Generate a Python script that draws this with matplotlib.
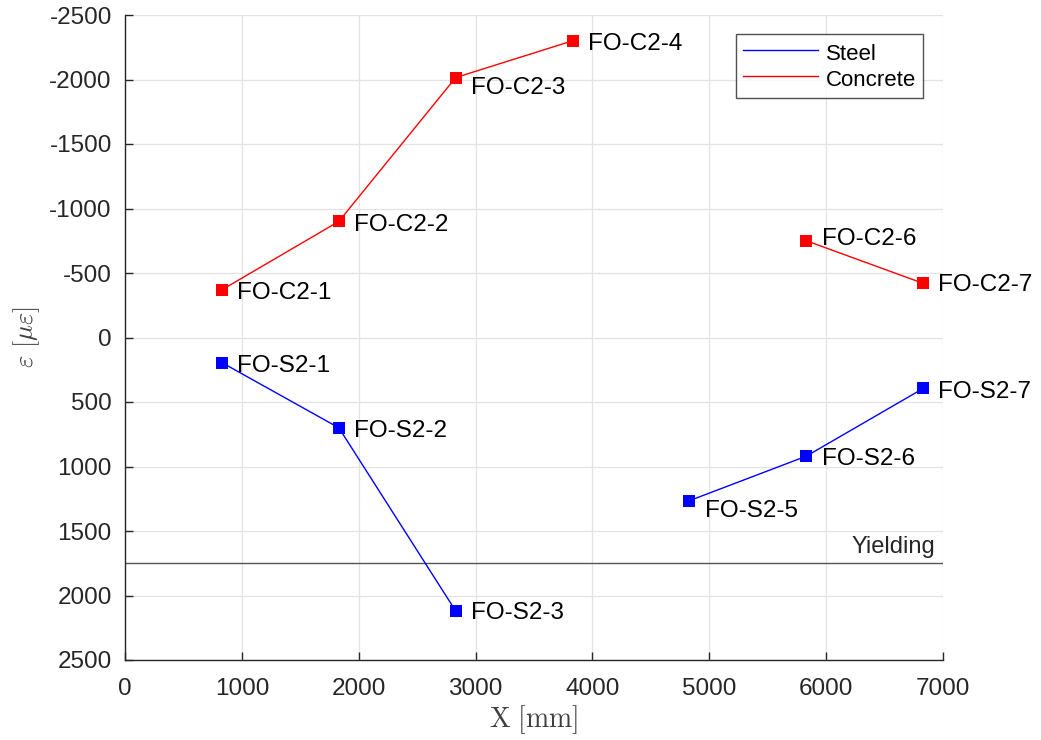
import numpy as np
import matplotlib
matplotlib.use("Agg")
import matplotlib.pyplot as plt
from matplotlib.lines import Line2D

# Sensor positions along the member [mm]
x_pos = [830, 1830, 2830, 3830, 4830, 5830, 6830]

# Strain readings [microstrain]; NaN where no gauge reading
steel_strain = [195, 700, 2120, np.nan, 1265, 920, 395]
concrete_strain = [-370, -900, -2015, -2300, np.nan, -750, -420]

steel_names = ["FO-S2-1", "FO-S2-2", "FO-S2-3", None, "FO-S2-5", "FO-S2-6", "FO-S2-7"]
concrete_names = ["FO-C2-1", "FO-C2-2", "FO-C2-3", "FO-C2-4", None, "FO-C2-6", "FO-C2-7"]

yield_strain = 1750

x_ticks = [0, 1000, 2000, 3000, 4000, 5000, 6000, 7000]
y_ticks = [-2500, -2000, -1500, -1000, -500, 0, 500, 1000, 1500, 2000, 2500]

# label vertical nudges (pixels, downward positive)
steel_dy = [3, 3, 2, 0, 10, 3, 3]
concrete_dy = [3, 3, 10, 3, 0, -2, 2]

plt.rcParams["font.family"] = ["Liberation Sans", "DejaVu Sans"]
plt.rcParams["mathtext.fontset"] = "cm"
plt.rcParams["axes.unicode_minus"] = False

ink = "#262626"
steel_color = "#0000ff"
concrete_color = "#ff0000"

fig = plt.figure(figsize=(10.41, 7.40), dpi=100)
ax = fig.add_axes([125 / 1041, 1 - 660 / 740, 818 / 1041, 645 / 740])

ax.plot(x_pos, steel_strain, color=steel_color, lw=1.0, marker="s", ms=8,
        markeredgewidth=0, zorder=3)
ax.plot(x_pos, concrete_strain, color=concrete_color, lw=1.0, marker="s", ms=8,
        markeredgewidth=0, zorder=3)

for xv, yv, name, dy in zip(x_pos, steel_strain, steel_names, steel_dy):
    if name:
        ax.annotate(name, (xv, yv), xytext=(11, -dy * 0.75), textcoords="offset points",
                    ha="left", va="center", fontsize=17.5, color="black")
for xv, yv, name, dy in zip(x_pos, concrete_strain, concrete_names, concrete_dy):
    if name:
        ax.annotate(name, (xv, yv), xytext=(11, -dy * 0.75), textcoords="offset points",
                    ha="left", va="center", fontsize=17.5, color="black")

ax.axhline(yield_strain, color="#555555", lw=1.0, zorder=2)
ax.annotate("Yielding", (6930, yield_strain), xytext=(0, 4), textcoords="offset points",
            ha="right", va="bottom", fontsize=17, color=ink)

ax.set_xlim(0, 7000)
ax.set_ylim(2500, -2500)
ax.set_xticks(x_ticks)
ax.set_yticks(y_ticks)
ax.grid(True, color="#e3e3e3", lw=0.9)
ax.set_axisbelow(True)

for side in ("top", "right"):
    ax.spines[side].set_visible(False)
for side in ("left", "bottom"):
    ax.spines[side].set_color(ink)
    ax.spines[side].set_linewidth(1.0)
ax.tick_params(direction="in", length=6, width=1.0, colors=ink, labelsize=17.5,
               labelcolor=ink)
ax.tick_params(axis="x", pad=13)
ax.tick_params(axis="y", pad=9.5)

ax.set_xlabel(r"$\mathrm{X\ [mm]}$", fontsize=20, color="#404040", labelpad=2)
ax.set_ylabel(r"$\varepsilon\ [\mu\varepsilon]$", fontsize=19, color="#404040", labelpad=5)

handles = [Line2D([], [], color=steel_color, lw=1.0),
           Line2D([], [], color=concrete_color, lw=1.0)]
leg = ax.legend(handles, ["Steel", "Concrete"], loc="upper right",
                bbox_to_anchor=(923 / 1041, 1 - 34 / 740),
                bbox_transform=fig.transFigure, fontsize=16, frameon=True,
                fancybox=False, handlelength=3.4, handletextpad=0.35,
                handleheight=1.25, labelspacing=0.08, borderpad=0.3,
                borderaxespad=0)
leg.get_frame().set_edgecolor(ink)
leg.get_frame().set_linewidth(1.0)
for t in leg.get_texts():
    t.set_color("black")

fig.savefig("out.png", dpi=100)
